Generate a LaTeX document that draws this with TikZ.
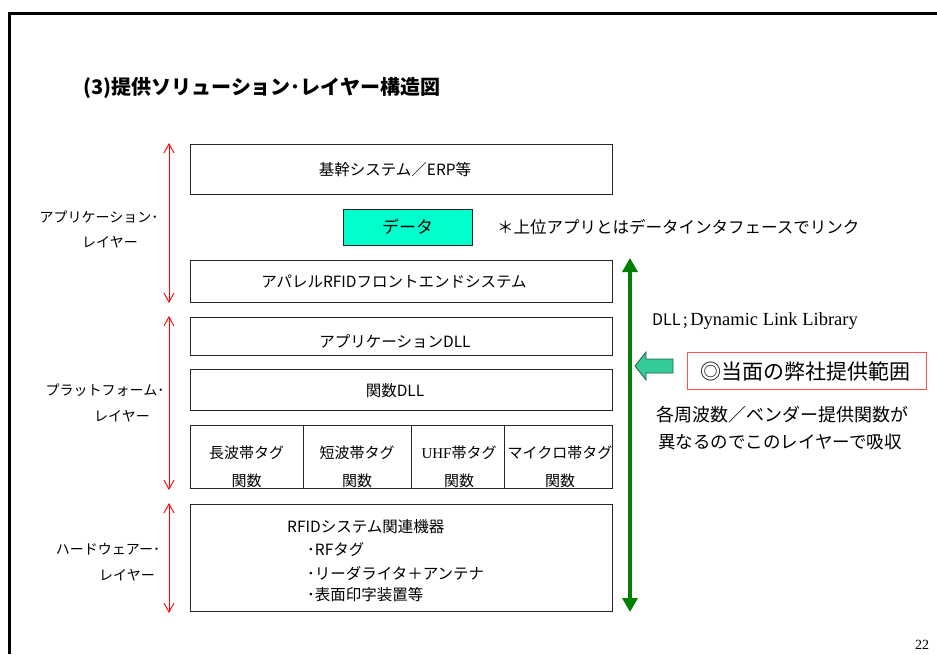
\documentclass[tikz,border=0pt]{standalone}
\usepackage{fontspec}
\setmainfont{Noto Sans CJK JP}
\newfontfamily\lserif{Liberation Serif}
\usetikzlibrary{arrows.meta}
\definecolor{datafill}{RGB}{0,255,204}
\definecolor{mint}{RGB}{51,204,153}
\definecolor{mintline}{RGB}{40,90,70}
\definecolor{gdark}{RGB}{0,128,0}
\definecolor{boxred}{RGB}{255,80,80}
\begin{document}
\begin{tikzpicture}[x=1pt,y=-1pt,
  layerbox/.style={draw=black!85,line width=0.8pt,inner sep=0pt,anchor=north west},
  boxtext/.style={font=\fontsize{15.5}{17}\selectfont},
  celltext/.style={font=\fontsize{15}{28}\selectfont,align=center},
  sidelabel/.style={font=\fontsize{14}{16}\selectfont},
  redarrow/.style={draw=red,line width=0.9pt,{Straight Barb[length=9pt,width=10pt]}-{Straight Barb[length=9pt,width=10pt]}},
  greenarrow/.style={draw=gdark,line width=3.3pt,{Triangle[length=14pt,width=15pt]}-{Triangle[length=14pt,width=15pt]}},
  hwtext/.style={font=\fontsize{15.5}{17}\selectfont,anchor=west,inner sep=0pt}]
\useasboundingbox (0,0) rectangle (937,654);
% frame
\draw[line width=3pt] (937,13.5) -- (9.5,13.5) -- (9.5,654);
% title
\node[anchor=west,inner sep=0pt,font=\fontsize{20}{22}\selectfont\bfseries] (title) at (83,88) {(3)提供ソリューション･レイヤー構造図};
% layer boxes
\node[layerbox,minimum width=422pt,minimum height=50pt] (erp) at (190,144) {};
\node[boxtext] (erpt) at (395,170) {基幹システム／ERP等};
\node[layerbox,fill=datafill,minimum width=129pt,minimum height=36pt] (data) at (343,209) {};
\node[font=\fontsize{17}{19}\selectfont] (datat) at (407.5,227) {データ};
\node[anchor=west,inner sep=0pt,font=\fontsize{16.5}{18}\selectfont] (note) at (497,227) {＊上位アプリとはデータインタフェースでリンク};
\node[layerbox,minimum width=422pt,minimum height=42pt] (front) at (190,260) {};
\node[boxtext] (frontt) at (394,282) {アパレルRFIDフロントエンドシステム};
\node[layerbox,minimum width=422pt,minimum height=38pt] (appdll) at (190,317) {};
\node[boxtext] (appdllt) at (395,341) {アプリケーションDLL};
\node[layerbox,minimum width=422pt,minimum height=41pt] (funcdll) at (190,369) {};
\node[boxtext] (funcdllt) at (395,391) {関数DLL};
% function cells
\node[layerbox,minimum width=113pt,minimum height=63pt] (c1) at (190,425) {};
\node[layerbox,minimum width=108pt,minimum height=63pt] (c2) at (303,425) {};
\node[layerbox,minimum width=93pt,minimum height=63pt] (c3) at (411,425) {};
\node[layerbox,minimum width=108pt,minimum height=63pt] (c4) at (504,425) {};
\node[celltext] (c1t) at (246.5,467) {長波帯タグ\\関数};
\node[celltext] (c2t) at (357,467) {短波帯タグ\\関数};
\node[celltext] (c3t) at (459,467) {{\lserif UHF}帯タグ\\関数};
\node[celltext] (c4t) at (560,467) {マイクロ帯タグ\\関数};
% hardware
\node[layerbox,minimum width=422pt,minimum height=107pt] (hw) at (190,504) {};
\node[hwtext] (hw1) at (287,527) {RFIDシステム関連機器};
\node[hwtext] (hw2) at (307,550) {･RFタグ};
\node[hwtext] (hw3) at (307,573) {･リーダライタ＋アンテナ};
\node[hwtext] (hw4) at (307,595) {･表面印字装置等};
% side labels
\node[sidelabel] (la1) at (99,217) {アプリケーション･};
\node[sidelabel] (la2) at (110,242) {レイヤー};
\node[sidelabel] (lp1) at (105,390) {プラットフォーム･};
\node[sidelabel] (lp2) at (122,416) {レイヤー};
\node[sidelabel] (lh1) at (108,549) {ハードウェアー･};
\node[sidelabel] (lh2) at (127,575) {レイヤー};
% red arrows
\coordinate (r1t) at (169,143); \coordinate (r1b) at (169,303);
\coordinate (r2t) at (169,316); \coordinate (r2b) at (169,490);
\coordinate (r3t) at (169,503); \coordinate (r3b) at (169,613);
\draw[redarrow] (r1t) -- (r1b);
\draw[redarrow] (r2t) -- (r2b);
\draw[redarrow] (r3t) -- (r3b);
% green arrow
\coordinate (gt) at (630,258); \coordinate (gb) at (630,612);
\draw[greenarrow] (gt) -- (gb);
% right side texts
\node[anchor=west,inner sep=0pt,font=\fontsize{16}{18}\selectfont] (dll) at (652,321) {DLL\,;\,{\lserif\fontsize{18.5}{20}\selectfont Dynamic Link Library}};
\draw[fill=mint,draw=mintline,line width=0.8pt] (635,366) -- (646,352) -- (646,359) -- (673,359) -- (673,373) -- (646,373) -- (646,380) -- cycle;
\node[draw=boxred,line width=0.8pt,anchor=north west,minimum width=239pt,minimum height=37pt,inner sep=0pt] (scope) at (687,352) {};
\node[font=\fontsize{21}{23}\selectfont] (scopet) at (805,371) {◎当面の弊社提供範囲};
\node[font=\fontsize{18}{20}\selectfont] (ex1) at (782,415) {各周波数／ベンダー提供関数が};
\node[font=\fontsize{17.5}{20}\selectfont] (ex2) at (780,442) {異なるのでこのレイヤーで吸収};
\node[font=\fontsize{14}{16}\lserif] (pg) at (922,645) {22};
\end{tikzpicture}
\end{document}
